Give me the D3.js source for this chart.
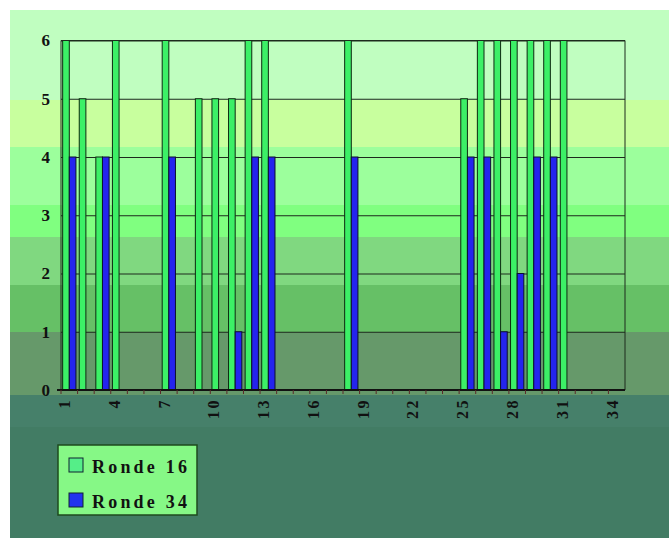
<!DOCTYPE html>

<head>
  <meta charset="utf-8">
  <script src="https://cdnjs.cloudflare.com/ajax/libs/d3/7.8.5/d3.min.js"></script>
</head>

<style>
  body { margin: 0; background: #fff; }

  svg text {
    font-family: "Liberation Serif", "Times New Roman", serif;
    font-weight: bold;
    fill: #111;
  }

  .axis path { display: none; }

  .grid line { stroke: #1c2a1c; stroke-width: 1; }

  .bar16 { fill: #3cf066; stroke: #0d2a10; stroke-width: 1; }
  .bar34 { fill: #2424ee; stroke: #0d1030; stroke-width: 1; }
</style>

<body>
  <svg width="671" height="538" class="my_bar"></svg>

  <script>

  // data
  let categories = [1, 2, 3, 4, 5, 6, 7, 8, 9, 10, 11, 12, 13, 14, 15, 16, 17,
                    18, 19, 20, 21, 22, 23, 24, 25, 26, 27, 28, 29, 30, 31, 32, 33, 34];
  let ronde16 = [6, 5, 4, 6, 0, 0, 6, 0, 5, 5, 5, 6, 6, 0, 0, 0, 0,
                 6, 0, 0, 0, 0, 0, 0, 5, 6, 6, 6, 6, 6, 6, 0, 0, 0];
  let ronde34 = [4, 0, 4, 0, 0, 0, 4, 0, 0, 0, 1, 4, 4, 0, 0, 0, 0,
                 4, 0, 0, 0, 0, 0, 0, 4, 4, 1, 2, 4, 4, 0, 0, 0, 0];
  let xTickLabels = [1, 4, 7, 10, 13, 16, 19, 22, 25, 28, 31, 34];
  let yTicks = [0, 1, 2, 3, 4, 5, 6];
  let seriesNames = ["Ronde 16", "Ronde 34"];

  let svg = d3.select(".my_bar");

  let plot = {left: 61, right: 625, top: 40.5, bottom: 390};

  // background bands
  let bg = svg.append("defs").append("linearGradient")
      .attr("id", "bg").attr("x1", 0).attr("y1", 0).attr("x2", 0).attr("y2", 1);
  let stops = [
    [0.00, "#c0fec0"], [0.17, "#c0fec0"], [0.17, "#c8ff9e"], [0.26, "#c8ff9e"],
    [0.26, "#9cff9c"], [0.37, "#9cff9c"], [0.37, "#80ff80"], [0.43, "#80ff80"],
    [0.43, "#80d880"], [0.52, "#80d880"], [0.52, "#66c066"], [0.61, "#66c066"],
    [0.61, "#66996a"], [0.73, "#66996a"], [0.73, "#46806a"], [0.79, "#46806a"],
    [0.79, "#427c64"], [1.00, "#427c64"]
  ];
  bg.selectAll("stop").data(stops).enter().append("stop")
      .attr("offset", d => d[0]).attr("stop-color", d => d[1]);

  svg.append("rect")
      .attr("x", 10).attr("y", 10).attr("width", 659).attr("height", 528)
      .attr("fill", "url(#bg)");

  let x = d3.scaleBand().domain(categories)
      .range([plot.left, plot.right]).paddingInner(0.2).paddingOuter(0.1);
  let xs = d3.scaleBand().domain([0, 1]).range([0, x.bandwidth()]);
  let y = d3.scaleLinear().domain([0, 6]).range([plot.bottom, plot.top]);

  // gridlines
  svg.append("g")
      .attr("class", "grid")
      .attr("transform", "translate(" + plot.left + ",0)")
      .call(d3.axisLeft(y).tickValues(yTicks).tickSize(-(plot.right - plot.left)).tickFormat(""))
      .call(g => g.select(".domain").remove());

  // bars
  let rows = categories.map((c, i) => ({cat: c, v: [ronde16[i], ronde34[i]]}));

  let groups = svg.append("g").selectAll("g")
    .data(rows)
    .enter().append("g")
      .attr("transform", d => "translate(" + x(d.cat) + ",0)");

  groups.selectAll("rect")
    .data(d => d.v.map((v, k) => ({k: k, v: v})).filter(e => e.v > 0))
    .enter().append("rect")
      .attr("class", d => d.k === 0 ? "bar16" : "bar34")
      .attr("x", d => xs(d.k))
      .attr("y", d => y(d.v))
      .attr("width", xs.bandwidth())
      .attr("height", d => y(0) - y(d.v));

  // plot frame
  svg.append("path")
      .attr("d", "M" + plot.left + "," + plot.bottom + "V" + plot.top + "H" + plot.right + "V" + plot.bottom + "Z")
      .attr("fill", "none").attr("stroke", "#1c2a1c").attr("stroke-width", 1);
  svg.append("line")
      .attr("x1", plot.left - 4).attr("x2", plot.right)
      .attr("y1", plot.bottom).attr("y2", plot.bottom)
      .attr("stroke", "#111").attr("stroke-width", 2);

  // small category ticks
  svg.append("g").selectAll("line")
    .data(categories)
    .enter().append("line")
      .attr("x1", d => x(d) - x.step() * 0.1).attr("x2", d => x(d) - x.step() * 0.1)
      .attr("y1", plot.bottom).attr("y2", plot.bottom + 4)
      .attr("stroke", "#5a2a2a");

  // y labels
  svg.append("g")
      .attr("class", "axis y_axis")
      .attr("transform", "translate(" + plot.left + ",0)")
      .call(d3.axisLeft(y).tickValues(yTicks).tickSize(0).tickPadding(11).tickFormat(d3.format("d")))
      .selectAll("text")
      .style("font-size", "17px");

  // x labels, rotated
  svg.append("g")
      .attr("class", "axis x_axis")
    .selectAll("text")
    .data(xTickLabels)
    .enter().append("text")
      .attr("transform", d => "translate(" + (x(d) + x.bandwidth() / 2) + ",398) rotate(-90)")
      .attr("text-anchor", "end")
      .attr("dy", "0.05em")
      .style("font-size", "16px")
      .style("letter-spacing", "2.5px")
      .text(d => d);

  // legend
  let legend = svg.append("g").attr("transform", "translate(58,445)");
  legend.append("rect")
      .attr("width", 139).attr("height", 70)
      .attr("fill", "#86f886").attr("stroke", "#1e4a1e").attr("stroke-width", 1.5);

  let items = legend.selectAll(".item")
    .data(seriesNames)
    .enter().append("g")
      .attr("class", "item")
      .attr("transform", (d, i) => "translate(11," + (13 + i * 35) + ")");

  items.append("rect")
      .attr("width", 14).attr("height", 14)
      .attr("fill", (d, i) => i === 0 ? "#55ee88" : "#2233ee")
      .attr("stroke", "#123").attr("stroke-width", 1);

  items.append("text")
      .attr("x", 23).attr("y", 15)
      .style("font-size", "18px")
      .style("letter-spacing", "3.2px")
      .text(d => d);

  </script>

</body>
